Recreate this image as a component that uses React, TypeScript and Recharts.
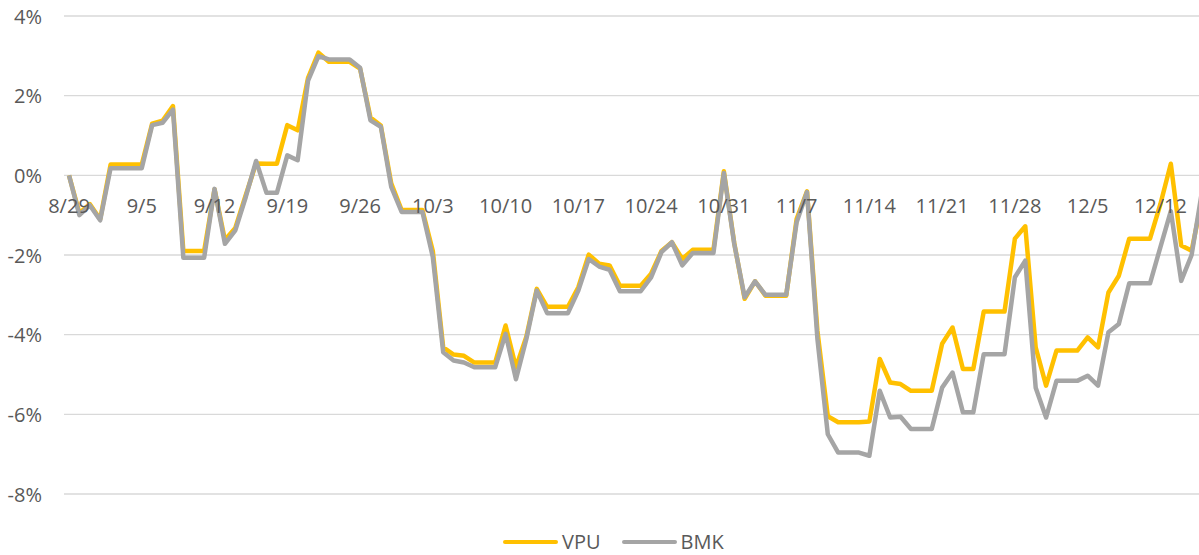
import React from "react";
import { LineChart, Line, XAxis, YAxis, CartesianGrid, Legend } from "recharts";

const dates = [
  "8/29","8/30","8/31","9/1","9/2","9/3","9/4","9/5","9/6","9/7","9/8","9/9","9/10","9/11","9/12","9/13","9/14","9/15","9/16","9/17","9/18","9/19","9/20","9/21","9/22","9/23","9/24","9/25","9/26","9/27","9/28","9/29","9/30",
  "10/1","10/2","10/3","10/4","10/5","10/6","10/7","10/8","10/9","10/10","10/11","10/12","10/13","10/14","10/15","10/16","10/17","10/18","10/19","10/20","10/21","10/22","10/23","10/24","10/25","10/26","10/27","10/28","10/29","10/30","10/31",
  "11/1","11/2","11/3","11/4","11/5","11/6","11/7","11/8","11/9","11/10","11/11","11/12","11/13","11/14","11/15","11/16","11/17","11/18","11/19","11/20","11/21","11/22","11/23","11/24","11/25","11/26","11/27","11/28","11/29","11/30",
  "12/1","12/2","12/3","12/4","12/5","12/6","12/7","12/8","12/9","12/10","12/11","12/12","12/13","12/14","12/15","12/16",
];

const vpu = [
  0, -0.95, -0.72, -1.1, 0.27, 0.27, 0.27, 0.27, 1.3, 1.37, 1.74, -1.9, -1.9, -1.9, -0.35, -1.62, -1.32, -0.5, 0.3, 0.29, 0.29, 1.26, 1.13, 2.45, 3.08, 2.85, 2.85, 2.85, 2.68, 1.45, 1.25, -0.2, -0.87,
  -0.87, -0.87, -1.9, -4.32, -4.5, -4.53, -4.7, -4.7, -4.7, -3.77, -4.82, -4.05, -2.85, -3.3, -3.3, -3.3, -2.81, -1.99, -2.22, -2.26, -2.77, -2.77, -2.77, -2.47, -1.9, -1.68, -2.1, -1.87, -1.87, -1.87, 0.1,
  -1.7, -3.1, -2.66, -3.02, -3.02, -3.02, -1.1, -0.4, -3.9, -6.05, -6.2, -6.2, -6.2, -6.18, -4.61, -5.2, -5.24, -5.41, -5.41, -5.41, -4.23, -3.82, -4.86, -4.86, -3.42, -3.42, -3.42, -1.59, -1.28, -4.32,
  -5.28, -4.4, -4.4, -4.4, -4.07, -4.32, -2.94, -2.52, -1.59, -1.59, -1.59, -0.72, 0.29, -1.76, -1.89, -0.6,
];

const bmk = [
  0, -1.0, -0.75, -1.13, 0.18, 0.18, 0.18, 0.18, 1.26, 1.32, 1.65, -2.07, -2.07, -2.07, -0.34, -1.72, -1.38, -0.55, 0.36, -0.44, -0.44, 0.5, 0.38, 2.38, 2.99, 2.91, 2.91, 2.91, 2.7, 1.38, 1.22, -0.29, -0.92,
  -0.92, -0.92, -2.05, -4.44, -4.65, -4.7, -4.82, -4.82, -4.82, -3.98, -5.12, -4.11, -2.89, -3.46, -3.46, -3.46, -2.89, -2.1, -2.29, -2.37, -2.91, -2.91, -2.91, -2.56, -1.93, -1.68, -2.26, -1.95, -1.95, -1.95, 0.06,
  -1.72, -3.06, -2.66, -3.0, -3.0, -3.0, -1.18, -0.42, -4.1, -6.5, -6.96, -6.96, -6.96, -7.04, -5.41, -6.08, -6.06, -6.37, -6.37, -6.37, -5.33, -4.95, -5.95, -5.95, -4.49, -4.49, -4.49, -2.56, -2.14, -5.33,
  -6.08, -5.16, -5.16, -5.16, -5.03, -5.28, -3.94, -3.73, -2.71, -2.71, -2.71, -1.8, -0.9, -2.65, -2.0, -0.4,
];

const yTicks = [-8, -6, -4, -2, 0, 2, 4];

const seriesNames = ["VPU", "BMK"];
const seriesColors = ["#FFC000", "#A5A5A5"];

const data = dates.map((d, i) => ({ date: d, VPU: vpu[i], BMK: bmk[i] }));

const FONT = "'Open Sans', 'Noto Sans', sans-serif";
const TEXT = "#595959";

const XTick = (props: any) => {
  const { x, payload } = props;
  return (
    <text x={x} y={213} textAnchor="middle" fill={TEXT} fontSize={20} fontFamily={FONT}>
      {payload.value}
    </text>
  );
};

const YTick = (props: any) => {
  const { y, payload } = props;
  return (
    <text x={42} y={y + 7.5} textAnchor="end" fill={TEXT} fontSize={20} fontFamily={FONT}>
      {`${payload.value}%`}
    </text>
  );
};

const LegendContent = () => (
  <div
    style={{
      display: "flex",
      alignItems: "flex-start",
      boxSizing: "border-box",
      height: 34,
      paddingTop: 9,
      paddingLeft: 503,
      fontFamily: FONT,
      fontSize: 20,
      color: TEXT,
    }}
  >
    {seriesNames.map((n, i) => (
      <div
        key={n}
        style={{ display: "flex", alignItems: "center", height: 24, marginRight: 21 }}
      >
        <span
          style={{
            display: "inline-block",
            width: 55,
            height: 4.5,
            background: seriesColors[i],
            borderRadius: 2,
          }}
        />
        <span style={{ marginLeft: 4, lineHeight: "24px", whiteSpace: "nowrap" }}>{n}</span>
      </div>
    ))}
  </div>
);

export default function App() {
  return (
    <div
      style={{
        position: "absolute",
        left: 0,
        top: 0,
        width: 1199,
        height: 555,
        overflow: "hidden",
        background: "#fff",
      }}
    >
      <LineChart
        width={1210}
        height={555}
        data={data}
        margin={{ top: 16, right: 3, left: 0, bottom: 0 }}
      >
        <CartesianGrid vertical={false} stroke="#D9D9D9" strokeWidth={1.3} />
        <XAxis
          dataKey="date"
          interval={6}
          axisLine={false}
          tickLine={false}
          height={27}
          padding={{ left: 5, right: 5 }}
          tick={<XTick />}
        />
        <YAxis
          domain={[-8, 4]}
          ticks={yTicks}
          width={64}
          axisLine={false}
          tickLine={false}
          tick={<YTick />}
          interval={0}
        />
        <Legend
          verticalAlign="bottom"
          align="left"
          content={<LegendContent />}
          wrapperStyle={{ left: 0, width: 1210, height: 34 }}
        />
        <Line
          type="linear"
          dataKey="VPU"
          stroke={seriesColors[0]}
          strokeWidth={4.5}
          strokeLinejoin="round"
          dot={false}
          isAnimationActive={false}
        />
        <Line
          type="linear"
          dataKey="BMK"
          stroke={seriesColors[1]}
          strokeWidth={4.5}
          strokeLinejoin="round"
          dot={false}
          isAnimationActive={false}
        />
      </LineChart>
    </div>
  );
}
